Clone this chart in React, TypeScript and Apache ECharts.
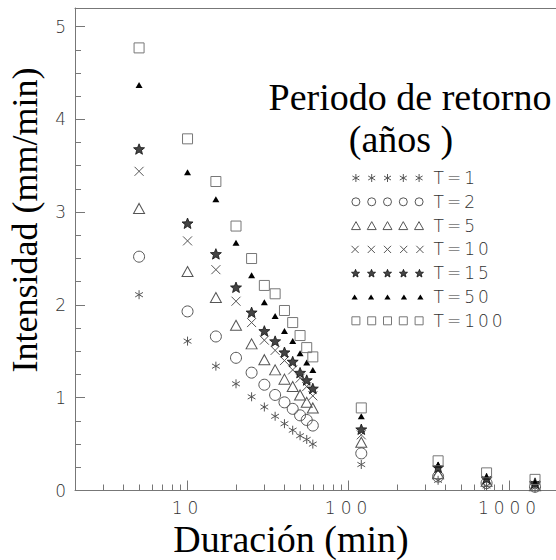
import React, { useEffect, useRef } from 'react';
import * as echarts from 'echarts';

// ---- data ----
const durations = [5, 10, 15, 20, 25, 30, 35, 40, 45, 50, 55, 60, 120, 360, 720, 1440];
const seriesNames = ['T=1', 'T=2', 'T=5', 'T=10', 'T=15', 'T=50', 'T=100'];
const t1 = [2.11, 1.61, 1.34, 1.15, 1.01, 0.90, 0.80, 0.72, 0.65, 0.59, 0.55, 0.50, 0.28, 0.11, 0.05, 0.03];
const t2 = [2.52, 1.93, 1.66, 1.43, 1.27, 1.14, 1.03, 0.95, 0.88, 0.81, 0.76, 0.70, 0.40, 0.15, 0.08, 0.04];
const t5 = [3.04, 2.36, 2.08, 1.78, 1.58, 1.41, 1.30, 1.20, 1.12, 1.03, 0.95, 0.89, 0.52, 0.18, 0.10, 0.05];
const t10 = [3.44, 2.69, 2.38, 2.04, 1.81, 1.62, 1.51, 1.40, 1.30, 1.21, 1.12, 1.02, 0.60, 0.21, 0.11, 0.06];
const t15 = [3.68, 2.88, 2.55, 2.19, 1.92, 1.72, 1.61, 1.49, 1.39, 1.27, 1.19, 1.10, 0.66, 0.25, 0.13, 0.08];
const t50 = [4.37, 3.43, 3.14, 2.67, 2.32, 2.03, 1.88, 1.72, 1.61, 1.48, 1.38, 1.30, 0.80, 0.28, 0.15, 0.09];
const t100 = [4.77, 3.79, 3.33, 2.85, 2.50, 2.21, 2.12, 1.94, 1.81, 1.67, 1.54, 1.44, 0.89, 0.32, 0.19, 0.12];
const seriesValues = [t1, t2, t5, t10, t15, t50, t100];

const xMajorTicks = [10, 100, 1000];
const xMinorTicks = [3, 4, 5, 6, 7, 8, 9, 20, 30, 40, 50, 60, 70, 80, 90, 200, 300, 400, 500, 600, 700, 800, 900];
const yMajorTicks = [0, 1, 2, 3, 4, 5];
const yMinorTicks = [0.25, 0.5, 0.75, 1.25, 1.5, 1.75, 2.25, 2.5, 2.75, 3.25, 3.5, 3.75, 4.25, 4.5, 4.75];

const titleLine1 = 'Periodo de retorno';
const titleLine2 = '(años )';
const xTitle = 'Duración (min)';
const yTitle = 'Intensidad (mm/min)';

// ---- styles ----
const SERIF = 'Liberation Serif';
const AXIS_COLOR = '#777';
const LABEL_COLOR = '#333';

const STAR = 'M0,-10L2.6,-3.4L9.5,-3.1L4.2,1.4L5.9,8.1L0,4.3L-5.9,8.1L-4.2,1.4L-9.5,-3.1L-2.6,-3.4Z';

const shapeAt: Record<string, (o: number) => string> = {
  asterisk: (o) => `M${o + 3.5},0L${o + 3.5},8M${o},2L${o + 7},6M${o},6L${o + 7},2`,
  circle: (o) => `M${o},4A4,4,0,1,0,${o + 8},4A4,4,0,1,0,${o},4Z`,
  triangle: (o) => `M${o + 4.5},0L${o + 9},8L${o},8Z`,
  cross: (o) => `M${o},0.5L${o + 7},7.5M${o},7.5L${o + 7},0.5`,
  star: (o) => {
    const pts = [[0, -10], [2.6, -3.4], [9.5, -3.1], [4.2, 1.4], [5.9, 8.1], [0, 4.3], [-5.9, 8.1], [-4.2, 1.4], [-9.5, -3.1], [-2.6, -3.4]];
    return 'M' + pts.map(([x, y]) => `${(o + 4 + x * 0.42).toFixed(2)},${(4 + y * 0.42).toFixed(2)}`).join('L') + 'Z';
  },
  filled: (o) => `M${o + 3},0L${o + 6},5L${o},5Z`,
  square: (o) => `M${o},0L${o + 8},0L${o + 8},8L${o},8Z`,
};
const legendShapes = ['asterisk', 'circle', 'triangle', 'cross', 'star', 'filled', 'square'];
const legendIcon = (shape: string) => {
  let d = '';
  for (let k = 0; k < 5; k++) d += shapeAt[shape](k * 15.8);
  return 'path://' + d;
};

const markerStyles = [
  { symbol: 'path://M5,0L5,10M0.67,2.5L9.33,7.5M0.67,7.5L9.33,2.5', symbolSize: 9, color: 'rgba(0,0,0,0)', borderColor: '#555', borderWidth: 1 },
  { symbol: 'circle', symbolSize: 11, color: 'rgba(0,0,0,0)', borderColor: '#555', borderWidth: 1 },
  { symbol: 'triangle', symbolSize: [11, 10], color: 'rgba(0,0,0,0)', borderColor: '#555', borderWidth: 1 },
  { symbol: 'path://M0,0L10,10M0,10L10,0', symbolSize: 9, color: 'rgba(0,0,0,0)', borderColor: '#555', borderWidth: 1 },
  { symbol: 'path://' + STAR, symbolSize: 11, color: '#444', borderColor: '#111', borderWidth: 0.8 },
  { symbol: 'triangle', symbolSize: [7, 6], color: '#000', borderColor: '#000', borderWidth: 0 },
  { symbol: 'rect', symbolSize: 10, color: 'rgba(0,0,0,0)', borderColor: '#777', borderWidth: 1 },
];

// y labels: plain; x labels & legend: letter-spaced through css (matched by family string)
const yLabelFont = { fontFamily: 'DejaVu Sans', fontWeight: 200 as any, fontSize: 17, color: LABEL_COLOR };
const xLabelFont = { fontFamily: "'DejaVu Sans', sans-serif", fontWeight: 200 as any, fontSize: 17, color: LABEL_COLOR };
const legendFont = { fontFamily: "'DejaVu Sans', Verdana", fontWeight: 200 as any, fontSize: 17, color: LABEL_COLOR };

export default function App() {
  const ref = useRef<HTMLDivElement>(null);
  useEffect(() => {
    document.body.style.margin = '0';
    if (!ref.current) return;
    const chart = echarts.init(ref.current, undefined, { renderer: 'svg' });
    const hiddenAxis = {
      axisLabel: { show: false },
      splitLine: { show: false },
    };
    const option: any = {
      animation: false,
      backgroundColor: '#fff',
      grid: {
        left: 75, top: 8, right: -2, bottom: 69.5,
        show: false,
        outerBoundsMode: 'none',
      },
      xAxis: [
        {
          type: 'log', logBase: 10, min: 2, max: 2000, position: 'bottom',
          axisLine: { show: true, lineStyle: { color: AXIS_COLOR, width: 1 } },
          axisTick: { show: true, inside: true, length: 10, lineStyle: { color: AXIS_COLOR }, customValues: xMajorTicks },
          axisLabel: { ...xLabelFont, margin: 9, customValues: xMajorTicks, formatter: (v: number) => String(v) },
          splitLine: { show: false },
          minorTick: { show: false },
        },
        {
          type: 'log', logBase: 10, min: 2, max: 2000, position: 'bottom',
          axisLine: { show: false },
          axisTick: { show: true, inside: true, length: 6, lineStyle: { color: AXIS_COLOR }, customValues: xMinorTicks },
          ...hiddenAxis,
        },
        {
          type: 'log', logBase: 10, min: 2, max: 2000, position: 'top',
          axisLine: { show: true, lineStyle: { color: AXIS_COLOR, width: 1 } },
          axisTick: { show: false },
          ...hiddenAxis,
        },
      ],
      yAxis: [
        {
          type: 'value', min: 0, max: 5.2, interval: 1, position: 'left',
          axisLine: { show: true, lineStyle: { color: AXIS_COLOR, width: 1 } },
          axisTick: { show: true, inside: true, length: 10, lineStyle: { color: AXIS_COLOR }, customValues: yMajorTicks },
          axisLabel: { ...yLabelFont, margin: 9, customValues: yMajorTicks },
          splitLine: { show: false },
        },
        {
          type: 'value', min: 0, max: 5.2, position: 'left', offset: 0,
          axisLine: { show: false },
          axisTick: { show: true, inside: true, length: 6, lineStyle: { color: AXIS_COLOR }, customValues: yMinorTicks },
          ...hiddenAxis,
        },
      ],
      legend: {
        orient: 'vertical', left: 351, top: 169, padding: 0,
        itemWidth: 72, itemHeight: 8, itemGap: 5.8,
        selectedMode: false,
        textStyle: { ...legendFont, lineHeight: 18, padding: [0, 0, 0, 5] },
        data: seriesNames.map((n, i) => ({
          name: n,
          icon: legendIcon(legendShapes[i]),
          itemStyle: {
            color: markerStyles[i].color,
            borderColor: markerStyles[i].borderColor,
            borderWidth: markerStyles[i].borderWidth,
          },
        })),
      },
      series: seriesNames.map((n, i) => ({
        name: n,
        type: 'scatter',
        xAxisIndex: 0,
        yAxisIndex: 0,
        symbol: markerStyles[i].symbol,
        symbolSize: markerStyles[i].symbolSize,
        symbolKeepAspect: true,
        itemStyle: {
          color: markerStyles[i].color,
          borderColor: markerStyles[i].borderColor,
          borderWidth: markerStyles[i].borderWidth,
          opacity: 1,
        },
        emphasis: { disabled: true },
        data: durations.map((d, k) => [d, seriesValues[i][k]]),
      })),
      graphic: [
        {
          type: 'text', x: 410, y: 97,
          style: { text: titleLine1, font: `38px "${SERIF}"`, lineHeight: 32, fill: '#000', align: 'center', verticalAlign: 'middle' },
        },
        {
          type: 'text', x: 401, y: 139,
          style: { text: titleLine2, font: `38px "${SERIF}"`, lineHeight: 32, fill: '#000', align: 'center', verticalAlign: 'middle' },
        },
        {
          type: 'text', x: 291, y: 539,
          style: { text: xTitle, font: `38px "${SERIF}"`, lineHeight: 30, fill: '#000', align: 'center', verticalAlign: 'middle' },
        },
        {
          type: 'text', x: 25, y: 220, rotation: Math.PI / 2,
          style: { text: yTitle, font: `36px "${SERIF}"`, lineHeight: 30, fill: '#000', align: 'center', verticalAlign: 'middle' },
        },
      ],
    };
    chart.setOption(option);
    return () => chart.dispose();
  }, []);
  return (
    <>
      <style>{`.ch text[style*="sans-serif"]{letter-spacing:5px;} .ch text[style*="Verdana"]{letter-spacing:3px;}`}</style>
      <div className="ch" ref={ref} style={{ width: 556, height: 560 }} />
    </>
  );
}
